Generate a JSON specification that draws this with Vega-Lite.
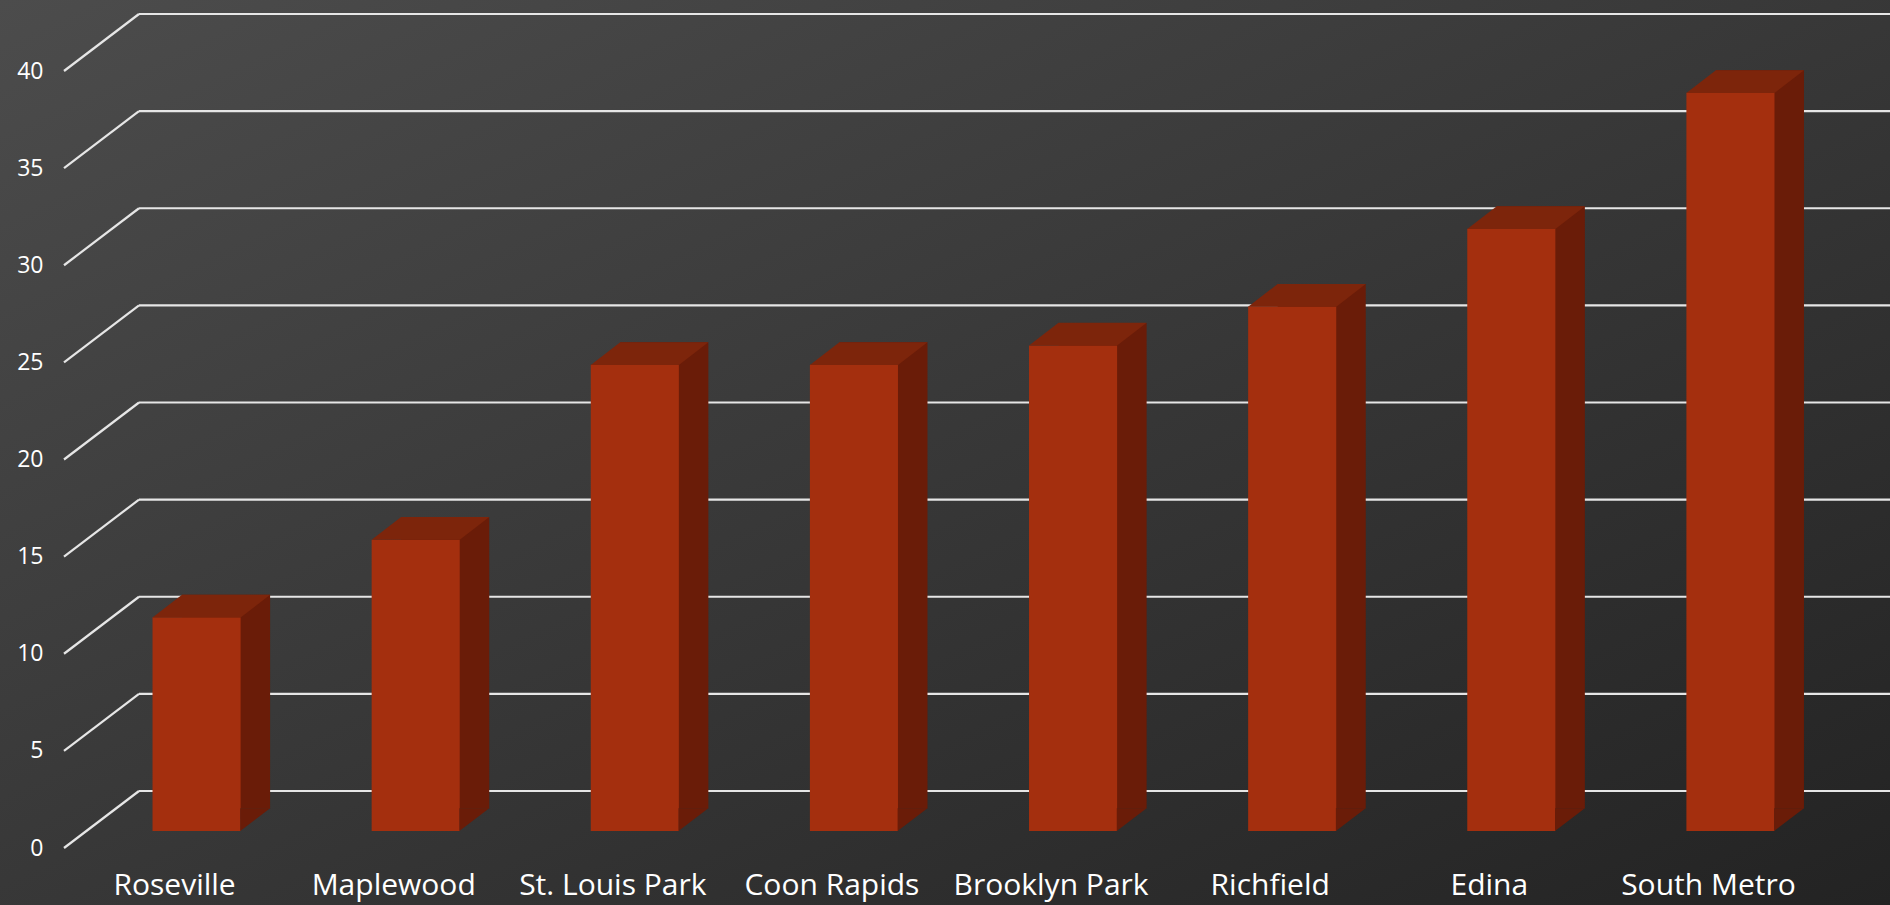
{
  "$schema": "https://vega.github.io/schema/vega-lite/v6.json",
  "width": 1890,
  "height": 905,
  "autosize": {"type": "none"},
  "padding": 0,
  "background": "#333333",
  "view": {
    "stroke": null,
    "fill": {
      "gradient": "linear", "x1": 0, "y1": 0, "x2": 1, "y2": 1,
      "stops": [{"offset": 0, "color": "#4c4c4c"}, {"offset": 1, "color": "#232323"}]
    }
  },
  "datasets": {
    "cities": [
      {"city": "Roseville", "value": 11},
      {"city": "Maplewood", "value": 15},
      {"city": "St. Louis Park", "value": 24},
      {"city": "Coon Rapids", "value": 24},
      {"city": "Brooklyn Park", "value": 25},
      {"city": "Richfield", "value": 27},
      {"city": "Edina", "value": 31},
      {"city": "South Metro", "value": 38}
    ],
    "ticks": [{"v": 0}, {"v": 5}, {"v": 10}, {"v": 15}, {"v": 20}, {"v": 25}, {"v": 30}, {"v": 35}, {"v": 40}]
  },
  "config": {
    "axisY": {"domain": false, "ticks": false, "tickSize": 0, "grid": false, "labelPadding": 44, "labelOffset": 17, "labelColor": "#ffffff", "labelFont": "Open Sans", "labelFontSize": 23, "offset": -87},
    "axisX": {"domain": false, "ticks": false, "tickSize": 0, "grid": false, "labelPadding": 63, "labelBaseline": "alphabetic", "labelOffset": -22, "labelColor": "#ffffff", "labelFont": "Open Sans", "labelFontSize": 30, "labelAngle": 0, "labelLimit": 400, "labelOverlap": false, "offset": -74}
  },
  "layer": [
    {
      "data": {"name": "ticks"},
      "mark": {"type": "rule", "yOffset": 17, "y2Offset": -40, "color": "#e6e6e6", "strokeWidth": 2.2},
      "encoding": {
        "x": {"value": 64},
        "x2": {"value": 139},
        "y": {"field": "v", "type": "quantitative", "title": null, "scale": {"domain": [0, 40], "range": [831, 54], "nice": false}, "axis": {"values": [0, 5, 10, 15, 20, 25, 30, 35, 40], "orient": "left"}},
        "y2": {"field": "v"}
      }
    },
    {
      "data": {"name": "ticks"},
      "mark": {"type": "rule", "yOffset": -40, "color": "#e6e6e6", "strokeWidth": 2.2},
      "encoding": {
        "x": {"value": 139},
        "x2": {"value": 1890},
        "y": {"field": "v", "type": "quantitative", "title": null}
      }
    },
    {
      "data": {"name": "cities"},
      "mark": {"type": "bar", "xOffset": 29.5, "yOffset": -22.5, "y2Offset": -22.5, "color": "#6a1c08"},
      "encoding": {
        "x": {"field": "city", "type": "nominal", "sort": null, "title": null, "scale": {"range": [87, 1840], "paddingInner": 0.598, "paddingOuter": 0.299}, "axis": {"orient": "bottom"}},
        "y": {"field": "value", "type": "quantitative", "title": null}
      }
    },
    {
      "data": {"name": "cities"},
      "mark": {"type": "bar", "color": "#a42f0e"},
      "encoding": {
        "x": {"field": "city", "type": "nominal", "sort": null, "title": null},
        "y": {"field": "value", "type": "quantitative", "title": null}
      }
    },
    {
      "data": {"name": "cities"},
      "mark": {"type": "point", "shape": "M -0.5953 0.003 L 0.5953 0.003 L 0.9939 -0.3041 L -0.1967 -0.3041 Z", "size": 21904, "filled": true, "color": "#7d250b", "opacity": 1, "strokeWidth": 0},
      "encoding": {
        "x": {"field": "city", "type": "nominal", "sort": null, "title": null},
        "y": {"field": "value", "type": "quantitative", "title": null}
      }
    },
    {
      "data": {"name": "cities"},
      "mark": {"type": "point", "shape": "M 0.59 -0.3081 L 0.9939 -0.3081 L 0.59 0 Z", "size": 21904, "filled": true, "color": "#6a1c08", "opacity": 1, "strokeWidth": 0},
      "encoding": {
        "x": {"field": "city", "type": "nominal", "sort": null, "title": null},
        "y": {"datum": 0, "type": "quantitative"}
      }
    }
  ]
}
